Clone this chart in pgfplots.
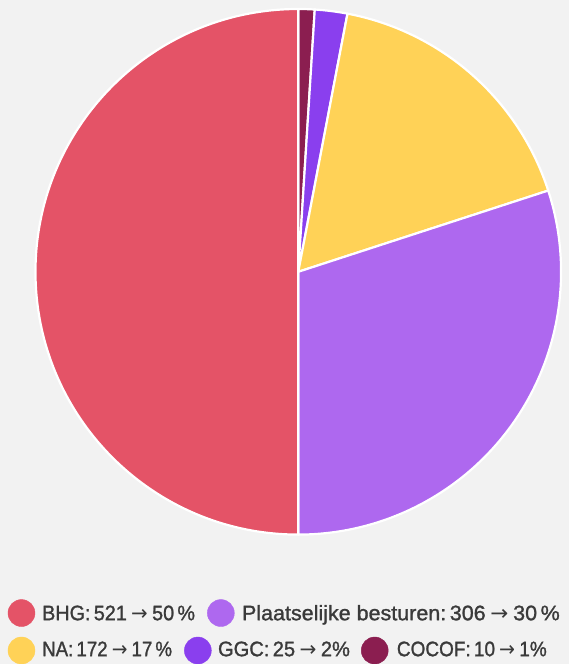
\documentclass[border=0pt]{standalone}
\usepackage{graphicx}
\usepackage{pgfplots}
\pgfplotsset{compat=1.18}
\usepackage{fontspec}
\setmainfont{Liberation Sans}[FakeBold=1.3]
\newfontfamily\arrfont{DejaVu Sans}
\newcommand\arr{\hspace{0.22em}{\arrfont\fontsize{21}{22}\selectfont →}\hspace{0.22em}}
\newcommand\lgt[2]{\resizebox{#1pt}{\height}{#2}}
\definecolor{bhg}{HTML}{E45367}
\definecolor{plaats}{HTML}{AE68EF}
\definecolor{na}{HTML}{FFD257}
\definecolor{ggc}{HTML}{8A3FEE}
\definecolor{cocof}{HTML}{8B1E50}
\definecolor{bg}{HTML}{F2F2F2}
\definecolor{txt}{HTML}{3A3A3A}
\begin{document}
\begin{tikzpicture}
% shares (percent): COCOF 1, GGC 2, NA 17, Plaatselijke besturen 30, BHG 50
\pgfmathsetmacro\T{1+2+17+30+50}
\pgfmathsetmacro\aA{90}
\pgfmathsetmacro\aB{\aA-1/\T*360}
\pgfmathsetmacro\aC{\aB-2/\T*360}
\pgfmathsetmacro\aD{\aC-17/\T*360}
\pgfmathsetmacro\aE{\aD-30/\T*360}
\pgfmathsetmacro\aF{\aE-50/\T*360}
\begin{axis}[x=1pt,y=1pt,xmin=0,xmax=569,ymin=0,ymax=664,hide axis,clip=false]
\fill[bg] (axis cs:0,0) rectangle (axis cs:569,664);
\tikzset{sl/.style={draw=white,line width=2.2pt,line join=round}}
\filldraw[sl,fill=cocof] (axis cs:298.5,392) -- ++(\aA:263pt) arc[start angle=\aA,end angle=\aB,radius=263pt] -- cycle;
\filldraw[sl,fill=ggc] (axis cs:298.5,392) -- ++(\aB:263pt) arc[start angle=\aB,end angle=\aC,radius=263pt] -- cycle;
\filldraw[sl,fill=na] (axis cs:298.5,392) -- ++(\aC:263pt) arc[start angle=\aC,end angle=\aD,radius=263pt] -- cycle;
\filldraw[sl,fill=plaats] (axis cs:298.5,392) -- ++(\aD:263pt) arc[start angle=\aD,end angle=\aE,radius=263pt] -- cycle;
\filldraw[sl,fill=bhg] (axis cs:298.5,392) -- ++(\aE:263pt) arc[start angle=\aE,end angle=\aF,radius=263pt] -- cycle;
% legend markers
\addplot[only marks,mark=*,color=bhg,mark size=13.5pt] coordinates {(21.5,50.5)};
\addplot[only marks,mark=*,color=plaats,mark size=13.5pt] coordinates {(221,50.5)};
\addplot[only marks,mark=*,color=na,mark size=13.5pt] coordinates {(21.5,13)};
\addplot[only marks,mark=*,color=ggc,mark size=13.5pt] coordinates {(198,13)};
\addplot[only marks,mark=*,color=cocof,mark size=13.5pt] coordinates {(375,13)};
\tikzset{lg/.style={anchor=base west,inner sep=0pt,text=txt,font=\fontsize{21}{24}\selectfont}}
\node[lg] at (axis cs:42,43.3) {\lgt{153}{BHG:\,521\arr 50\,\%}};
\node[lg] at (axis cs:242,43.3) {\lgt{318}{Plaatselijke besturen:\,306\arr 30\,\%}};
\node[lg] at (axis cs:42,7.3) {\lgt{130}{NA:\,172\arr 17\,\%}};
\node[lg] at (axis cs:218,7.3) {\lgt{132}{GGC:\,25\arr 2\%}};
\node[lg] at (axis cs:397,7.3) {\lgt{150}{COCOF:\,10\arr 1\%}};
\end{axis}
\end{tikzpicture}
\end{document}
